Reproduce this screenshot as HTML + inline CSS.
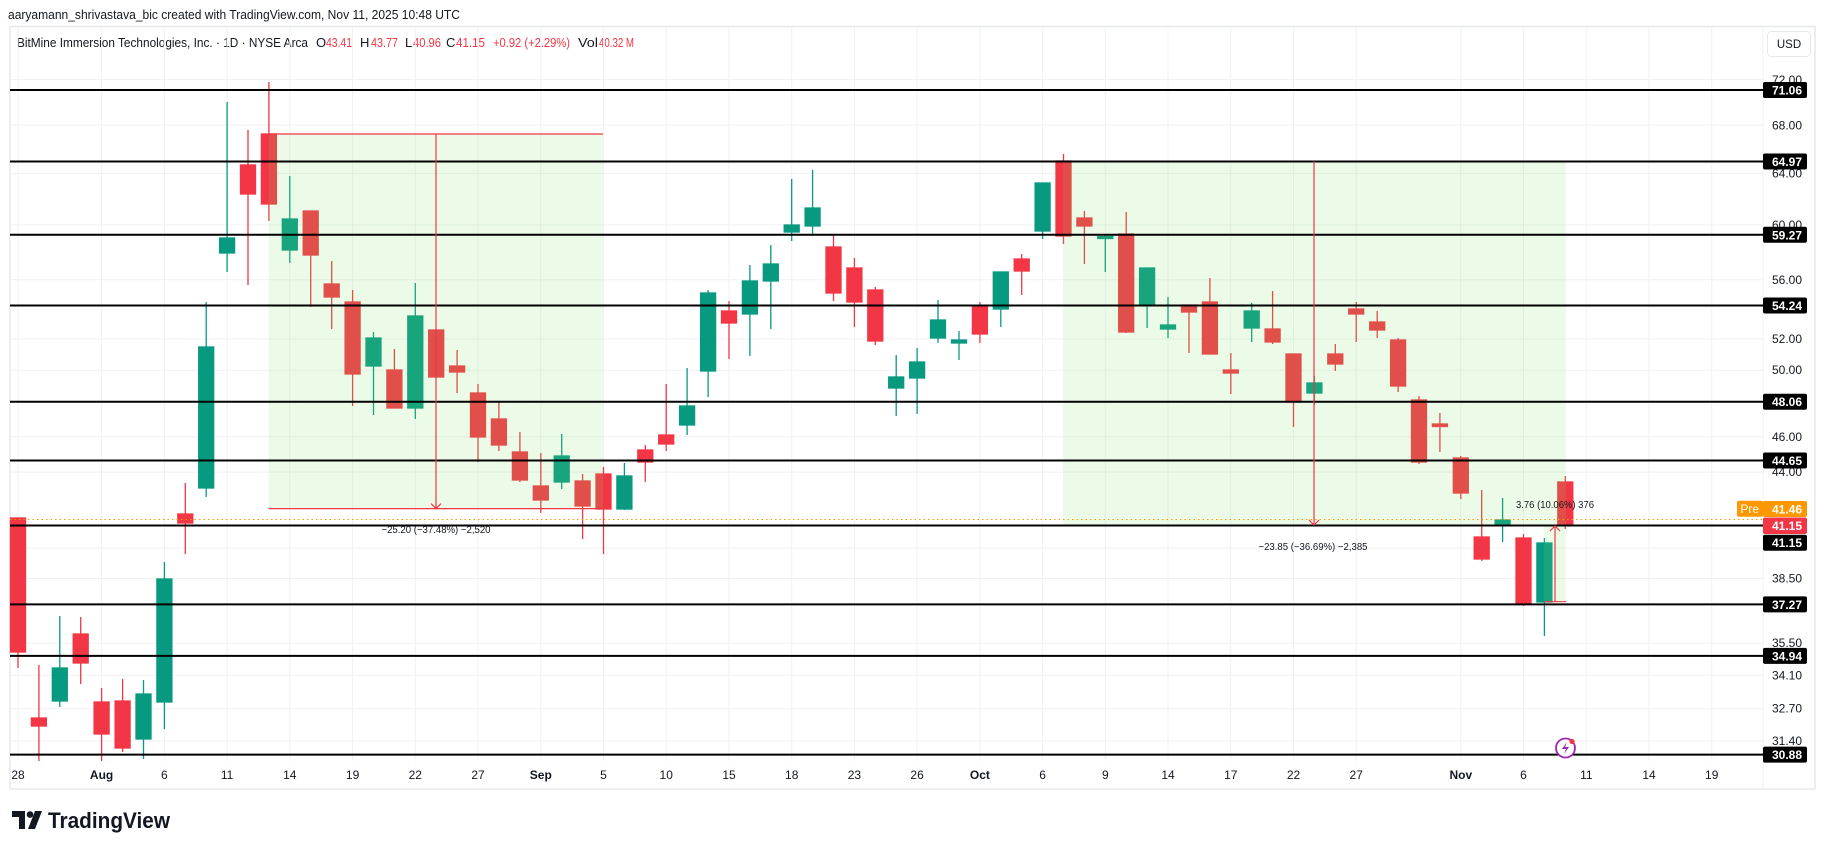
<!DOCTYPE html>
<html><head><meta charset="utf-8"><style>
html,body{margin:0;padding:0;background:#fff;}
svg{display:block;font-family:"Liberation Sans",sans-serif;}
</style></head><body>
<svg width="1825" height="849" viewBox="0 0 1825 849" xmlns="http://www.w3.org/2000/svg">
<rect width="1825" height="849" fill="#fff"/>
<text x="8" y="19" font-size="13" fill="#131722" textLength="452" lengthAdjust="spacingAndGlyphs">aaryamann_shrivastava_bic created with TradingView.com, Nov 11, 2025 10:48 UTC</text>
<!-- frame -->
<line x1="10" y1="26.5" x2="1815" y2="26.5" stroke="#e6e8ee" stroke-width="1.5"/>
<line x1="10" y1="26" x2="10" y2="789" stroke="#eceef2" stroke-width="2"/>
<line x1="1815" y1="26" x2="1815" y2="789" stroke="#e6e8ee" stroke-width="1.5"/>
<line x1="10" y1="789" x2="1815" y2="789" stroke="#eceef2" stroke-width="2"/>
<line x1="1763" y1="26" x2="1763" y2="789" stroke="#f0f1f4" stroke-width="1"/>
<g font-size="13">
<text x="17" y="47" fill="#131722" textLength="291" lengthAdjust="spacingAndGlyphs">BitMine Immersion Technologies, Inc. · 1D · NYSE Arca</text>
<text x="316" y="47" fill="#131722">O</text><text x="326" y="47" fill="#f23645" textLength="26" lengthAdjust="spacingAndGlyphs">43.41</text>
<text x="360" y="47" fill="#131722">H</text><text x="371" y="47" fill="#f23645" textLength="27" lengthAdjust="spacingAndGlyphs">43.77</text>
<text x="405" y="47" fill="#131722">L</text><text x="413" y="47" fill="#f23645" textLength="28" lengthAdjust="spacingAndGlyphs">40.96</text>
<text x="446" y="47" fill="#131722">C</text><text x="456" y="47" fill="#f23645" textLength="29" lengthAdjust="spacingAndGlyphs">41.15</text>
<text x="493" y="47" fill="#f23645" textLength="77" lengthAdjust="spacingAndGlyphs">+0.92 (+2.29%)</text>
<text x="578" y="47" fill="#131722" textLength="20" lengthAdjust="spacingAndGlyphs">Vol</text><text x="599" y="47" fill="#f23645" textLength="35" lengthAdjust="spacingAndGlyphs">40.32 M</text>
</g>
<!-- USD -->
<rect x="1767.5" y="31.5" width="43" height="25" rx="4" fill="#fff" stroke="#e6e8ee"/>
<text x="1789" y="48" font-size="11.5" fill="#131722" text-anchor="middle">USD</text>
<!-- horizontal grid -->
<g stroke="#f0f1f4" stroke-width="1">
<line x1="10" x2="1763" y1="79.6" y2="79.6"/><line x1="10" x2="1763" y1="125.1" y2="125.1"/>
<line x1="10" x2="1763" y1="173.4" y2="173.4"/><line x1="10" x2="1763" y1="224.9" y2="224.9"/>
<line x1="10" x2="1763" y1="279.8" y2="279.8"/><line x1="10" x2="1763" y1="338.9" y2="338.9"/>
<line x1="10" x2="1763" y1="370.2" y2="370.2"/><line x1="10" x2="1763" y1="436.7" y2="436.7"/>
<line x1="10" x2="1763" y1="472.1" y2="472.1"/><line x1="10" x2="1763" y1="548.1" y2="548.1"/>
<line x1="10" x2="1763" y1="578.5" y2="578.5"/><line x1="10" x2="1763" y1="643.2" y2="643.2"/>
<line x1="10" x2="1763" y1="675.3" y2="675.3"/><line x1="10" x2="1763" y1="708.7" y2="708.7"/>
<line x1="10" x2="1763" y1="741" y2="741"/>
</g>
<!-- vertical grid -->
<g stroke="#f0f1f4" stroke-width="1">
<line x1="18" x2="18" y1="27" y2="761"/><line x1="101.6" x2="101.6" y1="27" y2="761"/><line x1="164.4" x2="164.4" y1="27" y2="761"/>
<line x1="227.1" x2="227.1" y1="27" y2="761"/><line x1="289.8" x2="289.8" y1="27" y2="761"/><line x1="352.6" x2="352.6" y1="27" y2="761"/>
<line x1="415.3" x2="415.3" y1="27" y2="761"/><line x1="478" x2="478" y1="27" y2="761"/><line x1="540.8" x2="540.8" y1="27" y2="761"/>
<line x1="603.5" x2="603.5" y1="27" y2="761"/><line x1="666.2" x2="666.2" y1="27" y2="761"/><line x1="729" x2="729" y1="27" y2="761"/>
<line x1="791.7" x2="791.7" y1="27" y2="761"/><line x1="854.4" x2="854.4" y1="27" y2="761"/><line x1="917.1" x2="917.1" y1="27" y2="761"/>
<line x1="979.9" x2="979.9" y1="27" y2="761"/><line x1="1042.6" x2="1042.6" y1="27" y2="761"/><line x1="1105.3" x2="1105.3" y1="27" y2="761"/>
<line x1="1168" x2="1168" y1="27" y2="761"/><line x1="1230.8" x2="1230.8" y1="27" y2="761"/><line x1="1293.5" x2="1293.5" y1="27" y2="761"/>
<line x1="1356.2" x2="1356.2" y1="27" y2="761"/><line x1="1460.8" x2="1460.8" y1="27" y2="761"/><line x1="1523.5" x2="1523.5" y1="27" y2="761"/>
<line x1="1586.3" x2="1586.3" y1="27" y2="761"/><line x1="1649" x2="1649" y1="27" y2="761"/><line x1="1711.7" x2="1711.7" y1="27" y2="761"/>
</g>
<g stroke-width="1.3">
<g stroke="#f23645" fill="#f23645">
<line x1="18" x2="18" y1="518" y2="668"/><rect x="10.5" y="518" width="15" height="134"/>
<line x1="38.9" x2="38.9" y1="665" y2="761"/><rect x="31.4" y="718" width="15" height="8"/>
<line x1="80.7" x2="80.7" y1="617" y2="684"/><rect x="73.2" y="634" width="15" height="29"/>
<line x1="101.6" x2="101.6" y1="688" y2="761"/><rect x="94.1" y="702" width="15" height="32"/>
<line x1="122.6" x2="122.6" y1="679" y2="752"/><rect x="115.1" y="701" width="15" height="47"/>
<line x1="185.3" x2="185.3" y1="483" y2="554"/><rect x="177.8" y="514" width="15" height="9"/>
<line x1="248" x2="248" y1="130" y2="285"/><rect x="240.5" y="165" width="15" height="29"/>
<line x1="268.9" x2="268.9" y1="82" y2="221"/><rect x="261.4" y="134" width="15" height="70"/>
<line x1="310.7" x2="310.7" y1="211" y2="307"/><rect x="303.2" y="211" width="15" height="44"/>
<line x1="331.7" x2="331.7" y1="261" y2="329"/><rect x="324.2" y="284" width="15" height="13"/>
<line x1="352.6" x2="352.6" y1="290" y2="406"/><rect x="345.1" y="302" width="15" height="72"/>
<line x1="394.4" x2="394.4" y1="349" y2="408"/><rect x="386.9" y="370" width="15" height="38"/>
<line x1="436.2" x2="436.2" y1="330" y2="377"/><rect x="428.7" y="330" width="15" height="47"/>
<line x1="457.1" x2="457.1" y1="350" y2="393"/><rect x="449.6" y="366" width="15" height="6"/>
<line x1="478" x2="478" y1="384" y2="462"/><rect x="470.5" y="393" width="15" height="44"/>
<line x1="498.9" x2="498.9" y1="401" y2="451"/><rect x="491.4" y="419" width="15" height="26"/>
<line x1="519.9" x2="519.9" y1="432" y2="482"/><rect x="512.4" y="452" width="15" height="28"/>
<line x1="540.8" x2="540.8" y1="453" y2="513"/><rect x="533.3" y="486" width="15" height="14"/>
<line x1="582.6" x2="582.6" y1="474" y2="539"/><rect x="575.1" y="481" width="15" height="25"/>
<line x1="603.5" x2="603.5" y1="467" y2="554"/><rect x="596" y="474" width="15" height="35"/>
<line x1="645.3" x2="645.3" y1="445" y2="482"/><rect x="637.8" y="450" width="15" height="12"/>
<line x1="666.2" x2="666.2" y1="384" y2="451"/><rect x="658.7" y="435" width="15" height="9"/>
<line x1="729" x2="729" y1="301" y2="359"/><rect x="721.5" y="311" width="15" height="12"/>
<line x1="833.5" x2="833.5" y1="235" y2="301"/><rect x="826" y="247" width="15" height="46"/>
<line x1="854.4" x2="854.4" y1="258" y2="327"/><rect x="846.9" y="268" width="15" height="34"/>
<line x1="875.3" x2="875.3" y1="287" y2="345"/><rect x="867.8" y="290" width="15" height="51"/>
<line x1="979.9" x2="979.9" y1="302" y2="343"/><rect x="972.4" y="306" width="15" height="28"/>
<line x1="1021.7" x2="1021.7" y1="254" y2="295"/><rect x="1014.2" y="259" width="15" height="12"/>
<line x1="1063.5" x2="1063.5" y1="154" y2="244"/><rect x="1056" y="161" width="15" height="75"/>
<line x1="1084.4" x2="1084.4" y1="211" y2="264"/><rect x="1076.9" y="218" width="15" height="8"/>
<line x1="1126.2" x2="1126.2" y1="212" y2="333"/><rect x="1118.7" y="234" width="15" height="98"/>
<line x1="1189" x2="1189" y1="305" y2="353"/><rect x="1181.5" y="305" width="15" height="7"/>
<line x1="1209.9" x2="1209.9" y1="278" y2="354"/><rect x="1202.4" y="302" width="15" height="52"/>
<line x1="1230.8" x2="1230.8" y1="353" y2="394"/><rect x="1223.3" y="370" width="15" height="3"/>
<line x1="1272.6" x2="1272.6" y1="291" y2="344"/><rect x="1265.1" y="329" width="15" height="13"/>
<line x1="1293.5" x2="1293.5" y1="354" y2="427"/><rect x="1286" y="354" width="15" height="48"/>
<line x1="1335.3" x2="1335.3" y1="344" y2="371"/><rect x="1327.8" y="354" width="15" height="10"/>
<line x1="1356.2" x2="1356.2" y1="302" y2="342"/><rect x="1348.7" y="309" width="15" height="5"/>
<line x1="1377.2" x2="1377.2" y1="311" y2="338"/><rect x="1369.7" y="322" width="15" height="8"/>
<line x1="1398.1" x2="1398.1" y1="338" y2="392"/><rect x="1390.6" y="340" width="15" height="46"/>
<line x1="1419" x2="1419" y1="396" y2="464"/><rect x="1411.5" y="400" width="15" height="62"/>
<line x1="1439.9" x2="1439.9" y1="413" y2="452"/><rect x="1432.4" y="424" width="15" height="2.5"/>
<line x1="1460.8" x2="1460.8" y1="456" y2="499"/><rect x="1453.3" y="458" width="15" height="35"/>
<line x1="1481.7" x2="1481.7" y1="490" y2="561"/><rect x="1474.2" y="537" width="15" height="22"/>
<line x1="1523.5" x2="1523.5" y1="534" y2="606"/><rect x="1516" y="538" width="15" height="65"/>
<line x1="1565.3" x2="1565.3" y1="476" y2="529"/><rect x="1557.8" y="482" width="15" height="43"/>
</g>
<g stroke="#089981" fill="#089981">
<line x1="59.8" x2="59.8" y1="616" y2="707"/><rect x="52.3" y="668" width="15" height="33"/>
<line x1="143.5" x2="143.5" y1="680" y2="759"/><rect x="136" y="694" width="15" height="45"/>
<line x1="164.4" x2="164.4" y1="562" y2="729"/><rect x="156.9" y="579" width="15" height="123"/>
<line x1="206.2" x2="206.2" y1="302" y2="497"/><rect x="198.7" y="347" width="15" height="141"/>
<line x1="227.1" x2="227.1" y1="102" y2="272"/><rect x="219.6" y="238" width="15" height="15"/>
<line x1="289.8" x2="289.8" y1="176" y2="263"/><rect x="282.3" y="219" width="15" height="31"/>
<line x1="373.5" x2="373.5" y1="332" y2="415"/><rect x="366" y="338" width="15" height="28"/>
<line x1="415.3" x2="415.3" y1="283" y2="419"/><rect x="407.8" y="316" width="15" height="92"/>
<line x1="561.7" x2="561.7" y1="434" y2="489"/><rect x="554.2" y="456" width="15" height="26"/>
<line x1="624.4" x2="624.4" y1="463" y2="510"/><rect x="616.9" y="476" width="15" height="33"/>
<line x1="687.1" x2="687.1" y1="368" y2="435"/><rect x="679.6" y="406" width="15" height="19"/>
<line x1="708.1" x2="708.1" y1="290" y2="397"/><rect x="700.6" y="293" width="15" height="78"/>
<line x1="749.9" x2="749.9" y1="265" y2="356"/><rect x="742.4" y="281" width="15" height="33"/>
<line x1="770.8" x2="770.8" y1="245" y2="329"/><rect x="763.3" y="264" width="15" height="17"/>
<line x1="791.7" x2="791.7" y1="179" y2="241"/><rect x="784.2" y="225" width="15" height="7"/>
<line x1="812.6" x2="812.6" y1="170" y2="236"/><rect x="805.1" y="208" width="15" height="18"/>
<line x1="896.2" x2="896.2" y1="355" y2="416"/><rect x="888.7" y="377" width="15" height="11"/>
<line x1="917.1" x2="917.1" y1="348" y2="414"/><rect x="909.6" y="362" width="15" height="16"/>
<line x1="938" x2="938" y1="300" y2="343"/><rect x="930.5" y="320" width="15" height="18"/>
<line x1="959" x2="959" y1="331" y2="360"/><rect x="951.5" y="340" width="15" height="3"/>
<line x1="1000.8" x2="1000.8" y1="272" y2="327"/><rect x="993.3" y="272" width="15" height="37"/>
<line x1="1042.6" x2="1042.6" y1="183" y2="239"/><rect x="1035.1" y="183" width="15" height="48"/>
<line x1="1105.3" x2="1105.3" y1="234" y2="272"/><rect x="1097.8" y="236.5" width="15" height="2"/>
<line x1="1147.1" x2="1147.1" y1="268" y2="328"/><rect x="1139.6" y="268" width="15" height="36"/>
<line x1="1168" x2="1168" y1="297" y2="338"/><rect x="1160.5" y="325" width="15" height="4"/>
<line x1="1251.7" x2="1251.7" y1="303" y2="342"/><rect x="1244.2" y="311" width="15" height="17"/>
<line x1="1314.4" x2="1314.4" y1="376" y2="405"/><rect x="1306.9" y="383" width="15" height="10"/>
<line x1="1502.6" x2="1502.6" y1="498" y2="542"/><rect x="1495.1" y="520" width="15" height="4"/>
<line x1="1544.4" x2="1544.4" y1="538" y2="636"/><rect x="1536.9" y="543" width="15" height="59"/>
</g>
</g>
<rect x="268.7" y="134" width="334.3" height="374.6" fill="rgba(120,230,100,0.15)"/>
<rect x="1063" y="161.5" width="503" height="364" fill="rgba(120,230,100,0.15)"/>
<rect x="1544" y="525.5" width="22" height="76" fill="rgba(120,230,100,0.15)"/>
<g stroke="#000" stroke-width="2">
<line x1="10" x2="1763" y1="90" y2="90"/><line x1="10" x2="1763" y1="161.5" y2="161.5"/>
<line x1="10" x2="1763" y1="234.8" y2="234.8"/><line x1="10" x2="1763" y1="305.5" y2="305.5"/>
<line x1="10" x2="1763" y1="401.7" y2="401.7"/><line x1="10" x2="1763" y1="460.5" y2="460.5"/>
<line x1="10" x2="1763" y1="525.5" y2="525.5"/><line x1="10" x2="1763" y1="604.4" y2="604.4"/>
<line x1="10" x2="1763" y1="655.9" y2="655.9"/><line x1="10" x2="1763" y1="754.6" y2="754.6"/>
</g>
<line x1="10" x2="1763" y1="519.5" y2="519.5" stroke="#ff9800" stroke-width="1" stroke-dasharray="1.5,3"/>
<g stroke="#f23645" stroke-width="1.2" fill="none">
<line x1="268.7" x2="603" y1="134" y2="134"/><line x1="268.7" x2="603" y1="508.6" y2="508.6"/>
<line x1="436" x2="436" y1="134" y2="508.6"/><polyline points="431,503.6 436,508.6 441,503.6"/>
<line x1="1314" x2="1314" y1="161.5" y2="525"/><polyline points="1309,520 1314,525 1319,520"/>
<line x1="1544" x2="1566" y1="601.7" y2="601.7"/>
<line x1="1555" x2="1555" y1="526" y2="601.7"/><polyline points="1550,531 1555,526 1560,531"/>
</g>
<g font-size="10" fill="#131722">
<text x="436" y="533" text-anchor="middle" textLength="109" lengthAdjust="spacingAndGlyphs">−25.20 (−37.48%) −2,520</text>
<text x="1313" y="550" text-anchor="middle" textLength="109" lengthAdjust="spacingAndGlyphs">−23.85 (−36.69%) −2,385</text>
<text x="1516" y="508" textLength="78" lengthAdjust="spacingAndGlyphs">3.76 (10.06%) 376</text>
</g>
<circle cx="1565.5" cy="748" r="9.5" fill="#fff" stroke="#9c27b0" stroke-width="1.8"/>
<path d="M1567 742 L1562 749 L1566 749 L1564 754 L1569 747 L1565 747 Z" fill="#9c27b0"/>
<circle cx="1572" cy="741.5" r="2.6" fill="#f23645"/>
<g font-size="12" fill="#131722" text-anchor="end">
<text x="1802" y="84">72.00</text><text x="1802" y="129.5">68.00</text><text x="1802" y="177.5">64.00</text>
<text x="1802" y="229">60.00</text><text x="1802" y="284">56.00</text><text x="1802" y="343">52.00</text>
<text x="1802" y="374">50.00</text><text x="1802" y="441">46.00</text><text x="1802" y="476">44.00</text>
<text x="1802" y="582.5">38.50</text><text x="1802" y="647">35.50</text><text x="1802" y="679.5">34.10</text>
<text x="1802" y="712.5">32.70</text><text x="1802" y="745">31.40</text>
</g>
<g fill="#000">
<rect x="1763" y="82" width="44" height="16" rx="2"/><rect x="1763" y="153.5" width="44" height="16" rx="2"/>
<rect x="1763" y="226.8" width="44" height="16" rx="2"/><rect x="1763" y="297.5" width="44" height="16" rx="2"/>
<rect x="1763" y="393.7" width="44" height="16" rx="2"/><rect x="1763" y="452.5" width="44" height="16" rx="2"/>
<rect x="1763" y="534.7" width="44" height="16" rx="2"/><rect x="1763" y="596.4" width="44" height="16" rx="2"/>
<rect x="1763" y="647.9" width="44" height="16" rx="2"/><rect x="1763" y="746.6" width="44" height="16" rx="2"/>
</g>
<rect x="1763" y="501" width="44" height="16" rx="2" fill="#ff9800"/>
<rect x="1737" y="500.7" width="26" height="16" rx="2" fill="#ff9800"/>
<rect x="1763" y="517.5" width="44" height="16.5" rx="2" fill="#f23645"/>
<g font-size="12" fill="#fff" text-anchor="end" font-weight="bold">
<text x="1802" y="94.5">71.06</text><text x="1802" y="166">64.97</text><text x="1802" y="239.3">59.27</text>
<text x="1802" y="310">54.24</text><text x="1802" y="406.2">48.06</text><text x="1802" y="465">44.65</text>
<text x="1802" y="513.5">41.46</text><text x="1802" y="530">41.15</text><text x="1802" y="547.2">41.15</text>
<text x="1802" y="608.9">37.27</text><text x="1802" y="660.4">34.94</text><text x="1802" y="759.1">30.88</text>
<text x="1759" y="513" font-weight="normal">Pre</text>
</g>
<g font-size="12" fill="#131722" text-anchor="middle">
<text x="18" y="779">28</text><text x="101.6" y="779" font-weight="bold">Aug</text><text x="164.4" y="779">6</text>
<text x="227.1" y="779">11</text><text x="289.8" y="779">14</text><text x="352.6" y="779">19</text>
<text x="415.3" y="779">22</text><text x="478" y="779">27</text><text x="540.8" y="779" font-weight="bold">Sep</text>
<text x="603.5" y="779">5</text><text x="666.2" y="779">10</text><text x="729" y="779">15</text>
<text x="791.7" y="779">18</text><text x="854.4" y="779">23</text><text x="917.1" y="779">26</text>
<text x="979.9" y="779" font-weight="bold">Oct</text><text x="1042.6" y="779">6</text><text x="1105.3" y="779">9</text>
<text x="1168" y="779">14</text><text x="1230.8" y="779">17</text><text x="1293.5" y="779">22</text>
<text x="1356.2" y="779">27</text><text x="1460.8" y="779" font-weight="bold">Nov</text><text x="1523.5" y="779">6</text>
<text x="1586.3" y="779">11</text><text x="1649" y="779">14</text><text x="1711.7" y="779">19</text>
</g>
<g fill="#131722">
<path d="M12 811 H25 V829 H19 V817 H12 Z"/>
<circle cx="30" cy="814.5" r="3.3"/>
<path d="M35 811 H42 L35 829 H28 Z"/>
</g>
<text x="48" y="828" font-size="22" font-weight="bold" fill="#131722" textLength="122" lengthAdjust="spacingAndGlyphs">TradingView</text>
</svg>
</body></html>
